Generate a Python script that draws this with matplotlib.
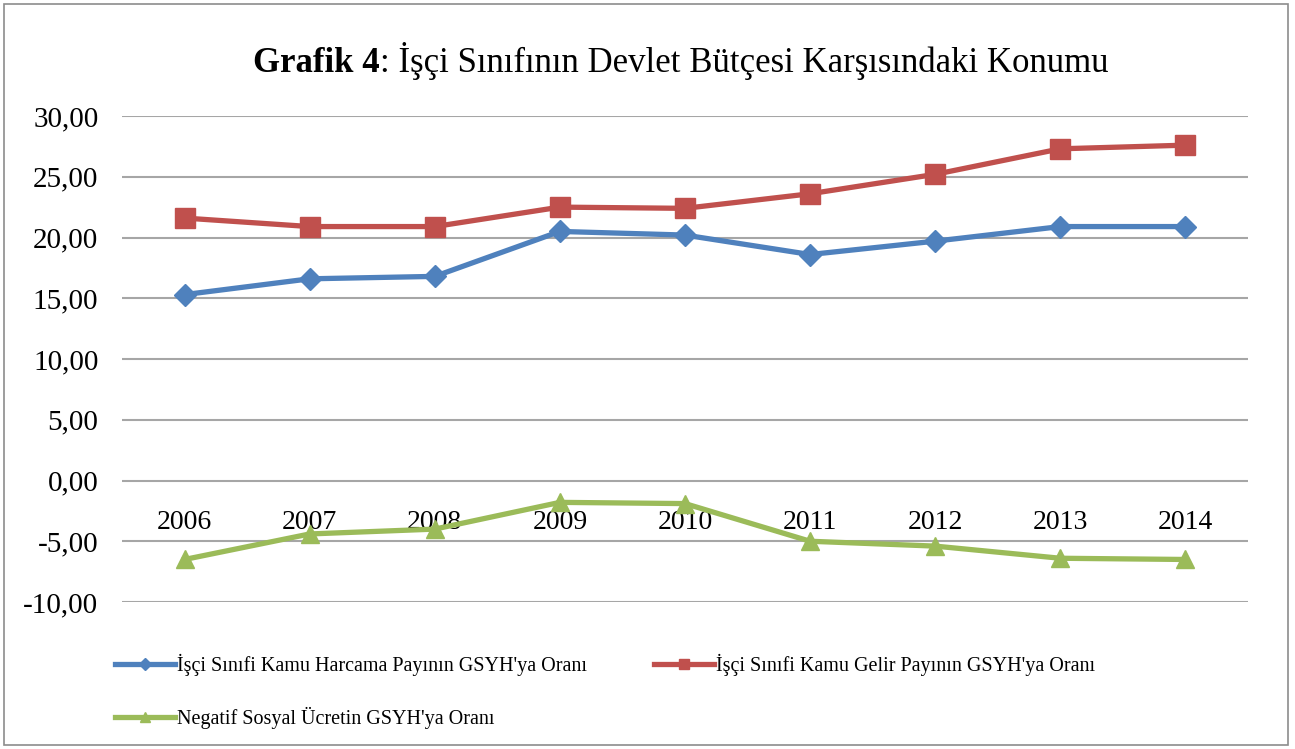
import matplotlib
matplotlib.use("Agg")
import matplotlib.pyplot as plt
from matplotlib.lines import Line2D
from matplotlib.patches import Rectangle

plt.rcParams['font.family'] = ['Liberation Serif', 'DejaVu Serif']

years = ['2006', '2007', '2008', '2009', '2010', '2011', '2012', '2013', '2014']
harcama = [15.3, 16.6, 16.8, 20.5, 20.2, 18.6, 19.7, 20.9, 20.9]
gelir = [21.6, 20.9, 20.9, 22.5, 22.4, 23.6, 25.2, 27.3, 27.6]
negatif = [-6.5, -4.4, -4.0, -1.8, -1.9, -5.0, -5.4, -6.4, -6.5]
yticks = [-10, -5, 0, 5, 10, 15, 20, 25, 30]
labels = ["İşçi Sınıfi Kamu Harcama Payının GSYH'ya Oranı",
          "İşçi Sınıfi Kamu Gelir Payının GSYH'ya Oranı",
          "Negatif Sosyal Ücretin GSYH'ya Oranı"]
colors = ['#4F81BD', '#C0504D', '#9BBB59']

W, H = 1295, 749
fig = plt.figure(figsize=(W / 100, H / 100), dpi=100)
fig.patches.append(Rectangle((4 / W, 4 / H), (1288 - 4) / W, (745 - 4) / H,
                             transform=fig.transFigure, fill=False,
                             edgecolor='#8C8C8C', lw=1.2))

ax = fig.add_axes([122 / W, (H - 602) / H, (1248 - 122) / W, (602 - 116) / H])
ax.spines['bottom'].set_position(('data', 0))
for s in ax.spines.values():
    s.set_visible(False)
x = list(range(len(years)))
ax.set_xlim(-0.5, len(years) - 0.5)
ax.set_ylim(-10, 30)
ax.set_yticks(yticks)
ax.set_yticklabels([f"{v:.2f}".replace('.', ',') for v in yticks])
ax.tick_params(axis='y', length=0, pad=17, labelsize=21)
ax.grid(axis='y', color='#A6A6A6', lw=1.5)
ax.set_axisbelow(True)

ax.set_xticks(x)
ax.set_xticklabels(years)
ax.tick_params(axis='x', length=0, pad=21, labelsize=20)

l1, = ax.plot(x, harcama, color=colors[0], lw=3.8, marker='D', ms=11, zorder=3)
l2, = ax.plot(x, gelir, color=colors[1], lw=3.8, marker='s', ms=14, zorder=3)
l3, = ax.plot(x, negatif, color=colors[2], lw=3.8, marker='^', ms=13, zorder=3)

h1 = Line2D([], [], color=colors[0], lw=3.8, marker='D', ms=6)
h2 = Line2D([], [], color=colors[1], lw=3.8, marker='s', ms=7)
h3 = Line2D([], [], color=colors[2], lw=3.8, marker='^', ms=7)
fig.legend([h1, h3, h2], [labels[0], labels[2], labels[1]], ncol=2,
           loc='upper left', bbox_to_anchor=(115 / W, 1 - 654 / H),
           frameon=False, fontsize=14.5, handlelength=3.0, handletextpad=0.1,
           labelspacing=1.55, columnspacing=3.3, borderpad=0, borderaxespad=0)

# Title: bold part + normal part
fig.canvas.draw()
r = fig.canvas.get_renderer()
ty = 1 - 72 / H
t1 = fig.text(0, ty, "Grafik 4", fontsize=25, fontweight='bold', va='baseline')
t2 = fig.text(0, ty, ": İşçi Sınıfının Devlet Bütçesi Karşısındaki Konumu",
              fontsize=25, va='baseline')
w1 = t1.get_window_extent(r).width
w2 = t2.get_window_extent(r).width
cx = 681
start = cx - (w1 + w2) / 2
t1.set_x(start / W)
t2.set_x((start + w1) / W)

fig.savefig('out.png', dpi=100)
